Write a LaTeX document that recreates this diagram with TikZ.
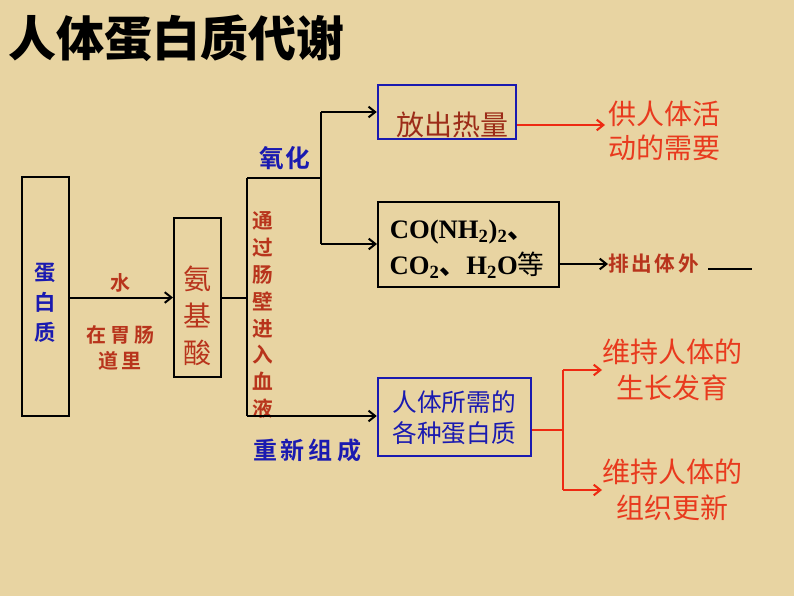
\documentclass[tikz,border=0pt]{standalone}
\usepackage{fontspec}
\newfontfamily\cjk{Noto Sans CJK SC}
\newfontfamily\cjkb{Noto Sans CJK SC Bold}
\newfontfamily\tnr{Liberation Serif}
\usetikzlibrary{arrows.meta}
\definecolor{bg}{HTML}{E8D4A2}
\definecolor{rb}{HTML}{B8341C}
\definecolor{bl}{HTML}{1A1AB0}
\definecolor{rd}{HTML}{EE2A12}
\definecolor{rt}{HTML}{E83A1E}
\tikzset{
  box/.style={draw=black,line width=1.5pt,inner sep=0pt},
  bbox/.style={draw=bl,line width=1.8pt,inner sep=0pt},
  conn/.style={line width=1.5pt,draw=black},
  arr/.style={conn,-{Straight Barb[length=5pt,width=8pt,line width=1.5pt]}},
  rarr/.style={line width=1.5pt,draw=rd,-{Straight Barb[length=5pt,width=8pt,line width=1.5pt]}},
  lbl/.style={inner sep=0pt,align=center},
}
\begin{document}
\begin{tikzpicture}[x=0.75pt,y=-0.75pt]
\fill[bg] (0,0) rectangle (794,596);
\useasboundingbox (0,0) rectangle (794,596);
% title
\node[lbl,anchor=west,font=\cjk\bfseries\fontsize{36}{40}\selectfont] (title) at (8,38) {人体蛋白质代谢};
% boxes
\node[box,minimum width=35.25pt,minimum height=179.25pt] (prot) at (45.5,296.5) {};
\node[lbl,text=bl,font=\cjkb\fontsize{16}{22.5}\selectfont] (prott) at (45.5,303) {蛋\\白\\质};
\node[box,minimum width=35.25pt,minimum height=119.25pt] (aa) at (197.5,297.5) {};
\node[lbl,text=rb,font=\cjk\fontsize{21}{28}\selectfont] (aat) at (197.5,316) {氨\\基\\酸};
\node[bbox,minimum width=103.5pt,minimum height=40.5pt] (heat) at (447,112) {};
\node[lbl,text=rb!85!black,font=\cjk\fontsize{21}{24}\selectfont] (heatt) at (452,125) {放出热量};
\node[box,minimum width=135.75pt,minimum height=63.75pt] (co) at (468.5,244.5) {};
\node[lbl,font=\tnr\bfseries\fontsize{20}{24}\selectfont] (cot1) at (462,232) {CO(NH\textsubscript{2})\textsubscript{2}{\cjk 、}};
\node[lbl,font=\tnr\bfseries\fontsize{20}{24}\selectfont] (cot2) at (467,265) {CO\textsubscript{2}{\cjk 、}H\textsubscript{2}O{\cjk\mdseries 等}};
\node[bbox,minimum width=114.75pt,minimum height=58.5pt] (newp) at (454.5,417) {};
\node[lbl,text=bl,font=\cjk\fontsize{18.5}{23}\selectfont] (newpt) at (454,418) {人体所需的\\各种蛋白质};
% labels
\node[lbl,text=rb,font=\cjkb\fontsize{15}{16}\selectfont] (water) at (120,283) {水};
\node[lbl,text=rb,font=\cjkb\fontsize{15}{20}\selectfont] (stom) at (120,348) {在\hspace{3pt}胃\hspace{3pt}肠\\道\hspace{3pt}里};
\node[lbl,text=rb,font=\cjkb\fontsize{15.5}{20.2}\selectfont] (blood) at (263,315) {通\\过\\肠\\壁\\进\\入\\血\\液};
\node[lbl,text=bl,font=\cjkb\fontsize{18.5}{20}\selectfont] (oxid) at (285,158) {氧\hspace{1pt}化};
\node[lbl,text=bl,font=\cjkb\fontsize{18}{20}\selectfont] (recomb) at (307,450) {重\hspace{3pt}新\hspace{3pt}组\hspace{3pt}成};
\node[lbl,text=rt,anchor=west,font=\cjk\fontsize{21}{25}\selectfont] (need) at (608,131) {供人体活\\动的需要};
\node[lbl,text=rb,anchor=west,font=\cjkb\fontsize{15.5}{16}\selectfont] (out) at (608,264) {排\hspace{2pt}出\hspace{2pt}体\hspace{2pt}外};
\node[lbl,text=rt,anchor=west,font=\cjk\fontsize{21}{27}\selectfont] (grow) at (602,370) {维持人体的\\生长发育};
\node[lbl,text=rt,anchor=west,font=\cjk\fontsize{21}{27}\selectfont] (renew) at (602,490) {维持人体的\\组织更新};
% coordinates
\coordinate (ja) at (247,298);
\coordinate (jt) at (247,178);
\coordinate (jb) at (247,416);
\coordinate (jm) at (321,178);
\coordinate (jh) at (321,112);
\coordinate (jc) at (321,244);
\coordinate (rj) at (563,430);
\coordinate (rt1) at (563,370);
\coordinate (rb1) at (563,490);
\coordinate (ul1) at (708,269);
\coordinate (ul2) at (752,269);
% connectors
\draw[arr] (prot.east |- aa.west) -- (aa.west);
\draw[conn] (aa.east |- ja) -- (ja);
\draw[conn] (jt) -- (jb);
\draw[conn] (jt) -- (jm);
\draw[conn] (jh) -- (jc);
\draw[arr] (jh) -- (heat.west);
\draw[arr] (jc) -- (co.west |- jc);
\draw[arr] (jb) -- (newp.west |- jb);
\draw[rarr] (heat.east |- heatt) -- (605,125);
\draw[arr] (co.east |- out) -- (out.west);
\draw[conn] (ul1) -- (ul2);
\draw[line width=1.5pt,draw=rd] (newp.east |- rj) -- (rj);
\draw[line width=1.5pt,draw=rd] (rt1) -- (rb1);
\draw[rarr] (rt1) -- (grow.west |- rt1);
\draw[rarr] (rb1) -- (renew.west |- rb1);
\end{tikzpicture}
\end{document}
